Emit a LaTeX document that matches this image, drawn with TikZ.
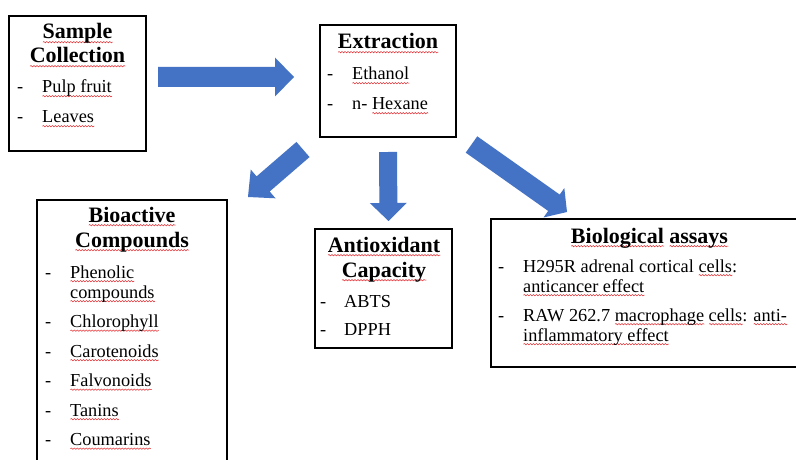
\documentclass[tikz,border=0pt]{standalone}
\usepackage{fontspec}
\setmainfont{Liberation Serif}
\usetikzlibrary{calc,decorations.pathmorphing}
\definecolor{arrowblue}{HTML}{4472C4}
\definecolor{squig}{HTML}{E0282E}
\newdimen\sqwd
\newcommand\sq[1]{\settowidth\sqwd{#1}\rlap{\tikz[baseline=0pt]\draw[squig,line width=0.5pt,decorate,decoration={snake,amplitude=0.7pt,segment length=3pt}] (0pt,-3.2pt) -- (\sqwd,-3.2pt);}#1}
\newcommand\blockarrow[5]{%
  \coordinate (#2-base) at ($(#2)!#5!(#1)$);
  \fill[arrowblue] ($(#1)!#3!90:(#2)$) -- ($(#2-base)!#3!90:(#2)$) -- ($(#2-base)!#4!90:(#2)$) -- (#2)
    -- ($(#2-base)!#4!-90:(#2)$) -- ($(#2-base)!#3!-90:(#2)$) -- ($(#1)!#3!-90:(#2)$) -- cycle;}
\begin{document}
\begin{tikzpicture}[x=1pt,y=-1pt,
  boxframe/.style={draw=black, line width=1.8pt, anchor=north west, inner sep=0pt, outer sep=0pt},
  headtext/.style={font=\fontsize{22}{25}\selectfont\bfseries, anchor=base, inner sep=0pt},
  listtext/.style={font=\fontsize{18.3}{20}\selectfont, anchor=base west, inner sep=0pt, align=left},
]
\useasboundingbox (0,0) rectangle (796,460);
\fill[white] (0,0) rectangle (796,460);
\clip (0,0) rectangle (796,460);

% boxes
\node[boxframe, minimum width=137pt, minimum height=135pt] (sample) at (9,16) {};
\node[boxframe, minimum width=136pt, minimum height=112pt] (extract) at (320,25) {};
\node[boxframe, minimum width=190pt, minimum height=290pt] (bioact) at (37,200) {};
\node[boxframe, minimum width=137pt, minimum height=119pt] (antiox) at (315,229) {};
\node[boxframe, minimum width=320pt, minimum height=148pt] (bioassay) at (491,219) {};

% headings
\node[headtext] (sampleh1) at (77.5,39) {\sq{Sample}};
\node[headtext] (sampleh2) at (77.5,63) {\sq{Collection}};
\node[headtext] (extracth) at (388,49) {\sq{Extraction}};
\node[headtext] (bioacth1) at (132,222) {\sq{Bioactive}};
\node[headtext] (bioacth2) at (132,247) {\sq{Compounds}};
\node[headtext] (antioxh1) at (384,252) {\sq{Antioxidant}};
\node[headtext] (antioxh2) at (384,277) {\sq{Capacity}};
\node[headtext] (bioassayh) at (649.5,243) {\sq{Biological} \sq{assays}};

% lists
\node[listtext] (samplelist) at (17,93) {\begin{tabular}[t]{@{}p{25pt}@{}l@{}}
-&\sq{Pulp fruit}\\[10pt]
-&\sq{Leaves}\end{tabular}};
\node[listtext] (extractlist) at (327,80) {\begin{tabular}[t]{@{}p{25pt}@{}l@{}}
-&\sq{Ethanol}\\[10pt]
-&n- \sq{Hexane}\end{tabular}};
\node[listtext] (bioactlist) at (45,278) {\begin{tabular}[t]{@{}p{25pt}@{}l@{}}
-&\sq{Phenolic}\\
&\sq{compounds}\\[9.5pt]
-&\sq{Chlorophyll}\\[9.5pt]
-&\sq{Carotenoids}\\[9.5pt]
-&\sq{Falvonoids}\\[9.5pt]
-&\sq{Tanins}\\[9.5pt]
-&\sq{Coumarins}\end{tabular}};
\node[listtext] (antioxlist) at (320,307) {\begin{tabular}[t]{@{}p{24pt}@{}l@{}}
-&ABTS\\[8pt]
-&DPPH\end{tabular}};
\node[listtext] (bioassaylist) at (498,272) {\begin{tabular}[t]{@{}p{25pt}@{}l@{}}
-&H295R adrenal cortical \sq{cells}:\\
&\sq{anticancer effect}\\[9pt]
-&RAW 262.7 \sq{macrophage} \sq{cells}: \sq{anti-}\\
&\sq{inflammatory effect}\end{tabular}};

% block arrows
\coordinate (a1s) at (158,77);
\coordinate (a1e) at (294,77);
\blockarrow{a1s}{a1e}{10pt}{19.5pt}{19pt}
\coordinate (a2s) at (303,149.5);
\coordinate (a2e) at (248,197);
\blockarrow{a2s}{a2e}{10pt}{19pt}{20pt}
\coordinate (a3s) at (388,152);
\coordinate (a3e) at (388.5,221);
\blockarrow{a3s}{a3e}{9pt}{18.5pt}{18pt}
\coordinate (a4s) at (471.5,144.5);
\coordinate (a4e) at (567,212);
\blockarrow{a4s}{a4e}{10pt}{18pt}{16pt}
\end{tikzpicture}
\end{document}
